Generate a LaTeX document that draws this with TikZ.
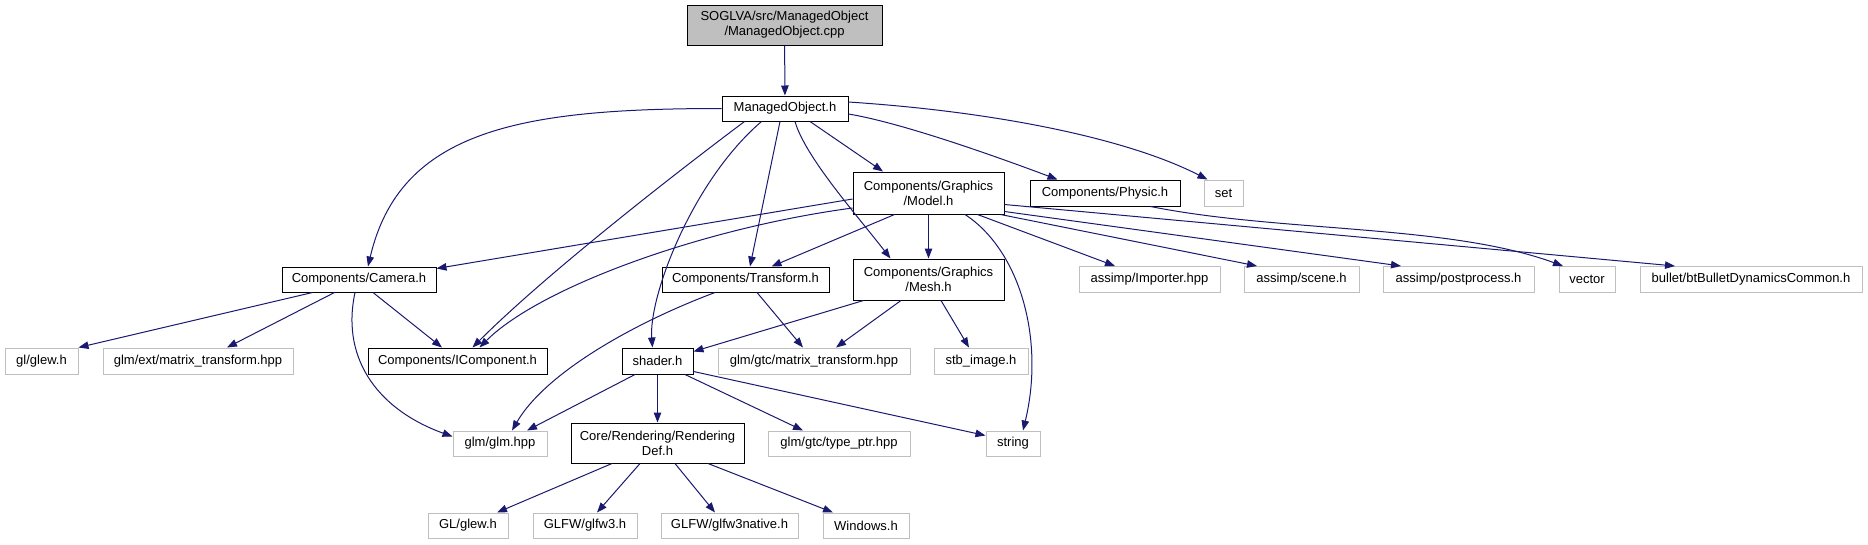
\documentclass[tikz,border=0pt]{standalone}
\usepackage{fontspec}
\setmainfont{Liberation Sans}
\usetikzlibrary{arrows.meta}
\definecolor{edgeblue}{HTML}{191970}
\definecolor{greyb}{HTML}{BFBFBF}
\begin{document}
\begin{tikzpicture}[x=1pt,y=-1pt,
  file/.style={draw=black, line width=1pt, fill=white, inner sep=0pt, align=center,
               font=\fontsize{13}{15}\selectfont},
  ext/.style={file, draw=greyb},
  rootfile/.style={file, fill=greyb},
  sz/.style 2 args={minimum width=#1pt, minimum height=#2pt},
  dep/.style={draw=edgeblue, line width=1pt, -{Triangle[length=10pt,width=7.5pt]}},
]
\useasboundingbox (0,0) rectangle (1868,544);

% nodes
\node[rootfile, sz={195}{40}] (root) at (784.5,25) {SOGLVA/src/ManagedObject\\/ManagedObject.cpp};
\node[file, sz={126}{25}] (mo) at (785,108.5) {ManagedObject.h};
\node[file, sz={151}{42}] (model) at (928.5,193) {Components/Graphics\\/Model.h};
\node[file, sz={150}{26}] (physic) at (1105,193) {Components/Physic.h};
\node[ext, sz={39}{26}] (set) at (1223.5,193) {set};
\node[file, sz={154}{25}] (camera) at (359,279.5) {Components/Camera.h};
\node[file, sz={167}{25}] (transform) at (745.5,279.5) {Components/Transform.h};
\node[file, sz={151}{41}] (mesh) at (928.5,279.5) {Components/Graphics\\/Mesh.h};
\node[ext, sz={141}{26}] (importer) at (1149.5,279.5) {assimp/Importer.hpp};
\node[ext, sz={115}{26}] (scene) at (1301.5,279.5) {assimp/scene.h};
\node[ext, sz={151}{26}] (post) at (1458.5,279.5) {assimp/postprocess.h};
\node[ext, sz={56}{26}] (vector) at (1587,279.5) {vector};
\node[ext, sz={222}{26}] (bullet) at (1751,279.5) {bullet/btBulletDynamicsCommon.h};
\node[ext, sz={73}{26}] (glewl) at (41.5,361) {gl/glew.h};
\node[ext, sz={190}{26}] (glmext) at (198,361) {glm/ext/matrix\_transform.hpp};
\node[file, sz={179}{26}] (icomp) at (457.5,361) {Components/IComponent.h};
\node[file, sz={71}{26}] (shader) at (657.5,361) {shader.h};
\node[ext, sz={192}{26}] (gtcmat) at (814,361) {glm/gtc/matrix\_transform.hpp};
\node[ext, sz={94}{26}] (stb) at (981,361) {stb\_image.h};
\node[ext, sz={94}{25}] (glm) at (500,443.5) {glm/glm.hpp};
\node[file, sz={173}{40}] (core) at (657.5,443) {Core/Rendering/Rendering\\Def.h};
\node[ext, sz={142}{25}] (typeptr) at (839,443.5) {glm/gtc/type\_ptr.hpp};
\node[ext, sz={54}{25}] (string) at (1013,443.5) {string};
\node[ext, sz={80}{25}] (GLglew) at (468,525.5) {GL/glew.h};
\node[ext, sz={104}{25}] (glfw3) at (585,525.5) {GLFW/glfw3.h};
\node[ext, sz={137}{25}] (native) at (729.5,525.5) {GLFW/glfw3native.h};
\node[ext, sz={86}{25}] (windows) at (866,525.5) {Windows.h};

% edges
\draw[dep] (root) -- (mo);
\draw[dep] (mo.west) .. controls +(-200,0) and +(32,-137) .. ([xshift=9pt]camera.north);
\draw[dep] ([xshift=23pt]mo.south west) .. controls +(-80,60) and +(70,-70) .. ([xshift=15pt]icomp.north);
\draw[dep] ([xshift=40pt]mo.south west) .. controls +(-70,60) and +(-4,-50) .. ([xshift=-5pt]shader.north);
\draw[dep] ([xshift=-5pt]mo.south) -- ([xshift=4.5pt]transform.north);
\draw[dep] ([xshift=10pt]mo.south) .. controls +(10,35) and +(-35,-45) .. ([xshift=-38pt]mesh.north);
\draw[dep] ([xshift=25pt]mo.south) -- ([xshift=-45.5pt]model.north);
\draw[dep] ([yshift=-5.5pt]mo.east) .. controls +(60,10) and +(-40,-15) .. ([xshift=28pt]physic.north west);
\draw[dep] ([yshift=6.5pt]mo.east) .. controls +(152,10) and +(-78,-40) .. ([xshift=4pt]set.north west);

\draw[dep] ([yshift=-15pt]model.west) .. controls +(-150,20) and +(60,-60) .. ([xshift=22pt]icomp.north);
\draw[dep] ([yshift=-6pt]model.west) -- ([yshift=-2pt]camera.north east);
\draw[dep] ([xshift=42pt]model.south west) -- ([xshift=26pt]transform.north);
\draw[dep] (model) -- (mesh);
\draw[dep] ([xshift=-39.5pt]model.south east) .. controls +(55,36) and +(22,-91) .. ([xshift=10pt]string.north);
\draw[dep] ([xshift=-27pt]model.south east) -- ([xshift=-34.5pt]importer.north);
\draw[dep] ([xshift=-4pt]model.south east) -- ([xshift=-44.5pt]scene.north);
\draw[dep] ([yshift=3pt]model.south east) -- ([xshift=-57.5pt]post.north);
\draw[dep] ([yshift=10pt]model.south east) -- ([xshift=-76pt]bullet.north);
\draw[dep] ([xshift=-30pt]physic.south east) .. controls +(130,26) and +(-115,-42) .. ([xshift=-24pt]vector.north);

\draw[dep] ([xshift=31pt]camera.south west) -- (glewl.north east);
\draw[dep] ([xshift=53pt]camera.south west) -- ([xshift=29pt]glmext.north);
\draw[dep] ([xshift=14pt]camera.south) -- ([xshift=-15.5pt]icomp.north);
\draw[dep] ([xshift=-4pt]camera.south) .. controls +(-15,70) and +(-70,-25) .. ([yshift=-6pt]glm.north west);

\draw[dep] ([xshift=-30.5pt]transform.south) .. controls +(-75,28) and +(35,-60) .. ([xshift=12pt]glm.north);
\draw[dep] ([xshift=11.5pt]transform.south) -- ([xshift=-11pt]gtcmat.north);

\draw[dep] ([xshift=11pt]mesh.south west) -- ([yshift=-4pt]shader.north east);
\draw[dep] ([xshift=-27.5pt]mesh.south) -- ([xshift=22pt]gtcmat.north);
\draw[dep] ([xshift=12.5pt]mesh.south) -- ([xshift=-12pt]stb.north);

\draw[dep] ([xshift=-22.5pt]shader.south) -- ([xshift=27pt]glm.north);
\draw[dep] (shader) -- (core);
\draw[dep] ([xshift=27.5pt]shader.south) -- ([xshift=-36pt]typeptr.north);
\draw[dep] ([yshift=3pt]shader.south east) -- ([yshift=-5pt]string.north west);

\draw[dep] ([xshift=-45.5pt]core.south) -- ([xshift=29pt]GLglew.north);
\draw[dep] ([xshift=-17.5pt]core.south) -- ([xshift=12pt]glfw3.north);
\draw[dep] ([xshift=17.5pt]core.south) -- ([xshift=-14.5pt]native.north);
\draw[dep] ([xshift=50.5pt]core.south) -- ([xshift=-33pt]windows.north);
\end{tikzpicture}
\end{document}
